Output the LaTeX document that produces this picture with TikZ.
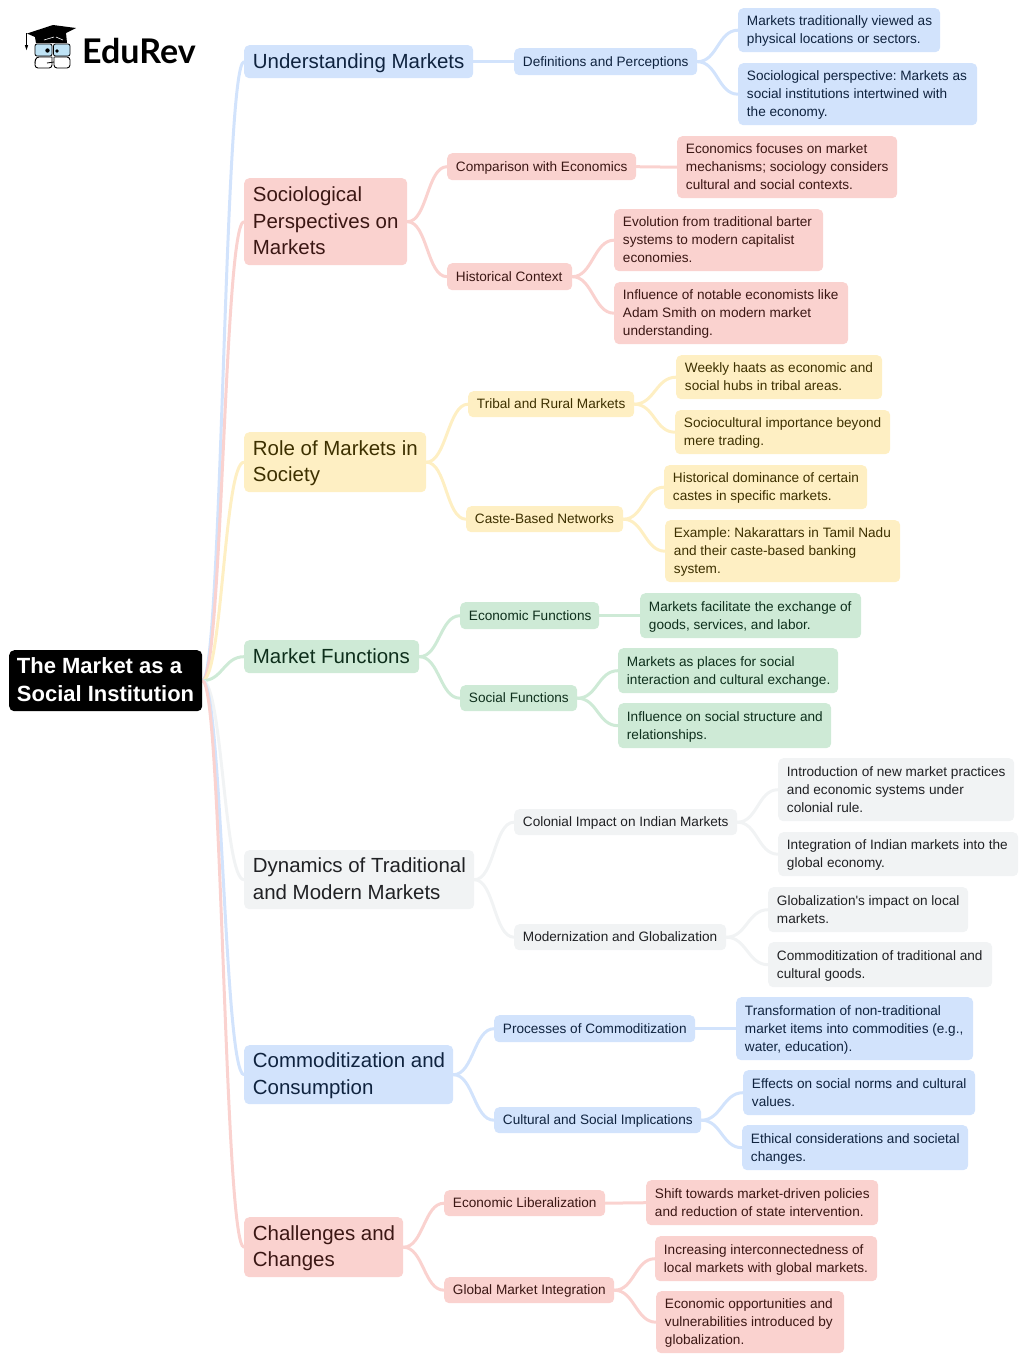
\documentclass[tikz,border=0pt]{standalone}
\usepackage{fontspec}
\setmainfont{Liberation Sans}
\newfontfamily\logofont{Lato}
\newfontfamily\straightfont{Liberation Sans}
\usetikzlibrary{backgrounds}
\definecolor{cblue}{HTML}{D2E3FC}
\definecolor{cred}{HTML}{FAD2CF}
\definecolor{cyel}{HTML}{FEEFC3}
\definecolor{cgrn}{HTML}{CEEAD6}
\definecolor{cgry}{HTML}{F1F3F4}
\definecolor{tblue}{HTML}{0F233F}
\definecolor{tred}{HTML}{3B1714}
\definecolor{tyel}{HTML}{3D3000}
\definecolor{tgrn}{HTML}{0E2F1C}
\definecolor{tgry}{HTML}{202124}
\definecolor{lensblue}{HTML}{BFE3F5}
\AtBeginDocument{\frenchspacing}
\tikzset{
  boxbase/.style={anchor=north west,rounded corners=5pt,inner xsep=0pt,inner ysep=0pt},
  lvl1/.style={boxbase,font=\fontsize{20.45}{26.5}\selectfont},
  lvl2/.style={boxbase,font=\fontsize{13.6}{18}\selectfont},
  lvl3/.style={boxbase,font=\fontsize{13.6}{18}\selectfont},
  rootbox/.style={boxbase,fill=black,text=white,font=\fontsize{22}{28}\selectfont\bfseries},
  bl/.style={fill=cblue,text=tblue},
  rd/.style={fill=cred,text=tred},
  yl/.style={fill=cyel,text=tyel},
  gn/.style={fill=cgrn,text=tgrn},
  gy/.style={fill=cgry,text=tgry},
  link/.style={line width=3pt,line cap=round},
}
\newcommand{\bx}[7]{%
  \pgfmathsetmacro{\bw}{#5-#3}\pgfmathsetmacro{\bh}{#6-#4}\pgfmathsetmacro{\tw}{#5-#3-17.5}%
  \node[#2,minimum width=\bw pt,minimum height=\bh pt] (#1) at (#3,#4) {\raisebox{-1pt}[\height][\depth]{\makebox[\tw pt][l]{\begin{tabular}{@{}l@{}}#7\end{tabular}}}};}
\newcommand{\cn}[3]{\draw[link,#3] (#1.east) .. controls +(20,0) and +(-20,0) .. (#2.west);}
\begin{document}
\begin{tikzpicture}[x=1pt,y=-1pt]
\useasboundingbox (0,0) rectangle (1024,1361);
% root
\bx{root}{rootbox}{9}{650}{202}{711}{\hspace{-1pt}The Market as a\\\hspace{-1pt}Social Institution}
% level 1
\bx{um}{lvl1,bl}{244}{45}{473}{78}{Understanding Markets}
\bx{sp}{lvl1,rd}{244}{178}{407}{265}{Sociological\\Perspectives on\\Markets}
\bx{rs}{lvl1,yl}{244}{432}{426}{492}{Role of Markets in\\Society}
\bx{mf}{lvl1,gn}{244}{640}{419}{673}{Market Functions}
\bx{dt}{lvl1,gy}{244}{850}{474}{909}{Dynamics of Traditional\\and Modern Markets}
\bx{cc}{lvl1,bl}{244}{1045}{453}{1104}{Commoditization and\\Consumption}
\bx{ch}{lvl1,rd}{244}{1217}{403}{1277}{Challenges and\\Changes}
% level 2
\bx{dp}{lvl2,bl}{514}{48}{697}{75}{Definitions and Perceptions}
\bx{ce}{lvl2,rd}{447}{153}{636}{180}{Comparison with Economics}
\bx{hc}{lvl2,rd}{447}{263}{572}{290}{Historical Context}
\bx{tr}{lvl2,yl}{468}{391}{634}{417}{Tribal and Rural Markets}
\bx{cb}{lvl2,yl}{466}{506}{623}{532}{Caste-Based Networks}
\bx{ef}{lvl2,gn}{460}{602}{599}{629}{Economic Functions}
\bx{sf}{lvl2,gn}{460}{685}{577}{711}{Social Functions}
\bx{ci}{lvl2,gy}{514}{809}{737}{835}{Colonial Impact on Indian Markets}
\bx{mg}{lvl2,gy}{514}{924}{726}{950}{Modernization and Globalization}
\bx{pc}{lvl2,bl}{494}{1015}{695}{1042}{Processes of Commoditization}
\bx{cs}{lvl2,bl}{494}{1107}{701}{1133}{Cultural and Social Implications}
\bx{el}{lvl2,rd}{444}{1190}{605}{1216}{Economic Liberalization}
\bx{gm}{lvl2,rd}{444}{1277}{614}{1303}{Global Market Integration}
% level 3
\bx{a1}{lvl3,bl}{738}{8}{940}{52}{Markets traditionally viewed as\\physical locations or sectors.}
\bx{a2}{lvl3,bl}{738}{63}{977}{125}{Sociological perspective: Markets as\\social institutions intertwined with\\the economy.}
\bx{b1}{lvl3,rd}{677}{136}{897}{198}{Economics focuses on market\\mechanisms; sociology considers\\cultural and social contexts.}
\bx{b2}{lvl3,rd}{614}{209}{823}{271}{Evolution from traditional barter\\systems to modern capitalist\\economies.}
\bx{b3}{lvl3,rd}{614}{282}{848}{344}{Influence of notable economists like\\Adam Smith on modern market\\understanding.}
\bx{c1}{lvl3,yl}{676}{355}{882}{399}{Weekly haats as economic and\\social hubs in tribal areas.}
\bx{c2}{lvl3,yl}{675}{410}{890}{454}{Sociocultural importance beyond\\mere trading.}
\bx{c3}{lvl3,yl}{664}{465}{867}{509}{Historical dominance of certain\\castes in specific markets.}
\bx{c4}{lvl3,yl}{665}{520}{900}{582}{Example: Nakarattars in Tamil Nadu\\and their caste-based banking\\system.}
\bx{d1}{lvl3,gn}{640}{593}{861}{638}{Markets facilitate the exchange of\\goods, services, and labor.}
\bx{d2}{lvl3,gn}{618}{648}{838}{693}{Markets as places for social\\interaction and cultural exchange.}
\bx{d3}{lvl3,gn}{618}{703}{831}{748}{Influence on social structure and\\relationships.}
\bx{e1}{lvl3,gy}{778}{758}{1014}{821}{Introduction of new market practices\\and economic systems under\\colonial rule.}
\bx{e2}{lvl3,gy}{778}{832}{1018}{876}{Integration of Indian markets into the\\global economy.}
\bx{e3}{lvl3,gy}{768}{887}{968}{932}{Globalization{\straightfont'}s impact on local\\markets.}
\bx{e4}{lvl3,gy}{768}{942}{992}{987}{Commoditization of traditional and\\cultural goods.}
\bx{f1}{lvl3,bl}{736}{997}{973}{1060}{Transformation of non-traditional\\market items into commodities (e.g.,\\water, education).}
\bx{f2}{lvl3,bl}{743}{1070}{975}{1115}{Effects on social norms and cultural\\values.}
\bx{f3}{lvl3,bl}{742}{1125}{968}{1170}{Ethical considerations and societal\\changes.}
\bx{g1}{lvl3,rd}{646}{1180}{878}{1225}{Shift towards market-driven policies\\and reduction of state intervention.}
\bx{g2}{lvl3,rd}{655}{1236}{877}{1281}{Increasing interconnectedness of\\local markets with global markets.}
\bx{g3}{lvl3,rd}{656}{1291}{844}{1353}{Economic opportunities and\\vulnerabilities introduced by\\globalization.}
% connectors
\begin{scope}[on background layer]
\cn{root}{um}{cblue}\cn{root}{sp}{cred}\cn{root}{rs}{cyel}\cn{root}{mf}{cgrn}
\cn{root}{dt}{cgry}\cn{root}{cc}{cblue}\cn{root}{ch}{cred}
\cn{um}{dp}{cblue}\cn{dp}{a1}{cblue}\cn{dp}{a2}{cblue}
\cn{sp}{ce}{cred}\cn{sp}{hc}{cred}\cn{ce}{b1}{cred}\cn{hc}{b2}{cred}\cn{hc}{b3}{cred}
\cn{rs}{tr}{cyel}\cn{rs}{cb}{cyel}\cn{tr}{c1}{cyel}\cn{tr}{c2}{cyel}\cn{cb}{c3}{cyel}\cn{cb}{c4}{cyel}
\cn{mf}{ef}{cgrn}\cn{mf}{sf}{cgrn}\cn{ef}{d1}{cgrn}\cn{sf}{d2}{cgrn}\cn{sf}{d3}{cgrn}
\cn{dt}{ci}{cgry}\cn{dt}{mg}{cgry}\cn{ci}{e1}{cgry}\cn{ci}{e2}{cgry}\cn{mg}{e3}{cgry}\cn{mg}{e4}{cgry}
\cn{cc}{pc}{cblue}\cn{cc}{cs}{cblue}\cn{pc}{f1}{cblue}\cn{cs}{f2}{cblue}\cn{cs}{f3}{cblue}
\cn{ch}{el}{cred}\cn{ch}{gm}{cred}\cn{el}{g1}{cred}\cn{gm}{g2}{cred}\cn{gm}{g3}{cred}
\end{scope}
% logo
\fill[black] (27,33.5) -- (53,25) -- (76,28) -- (66,33) -- (67,43) -- (36,43) -- (35,37) -- cycle;
\draw[black,line width=1pt] (26.5,33) -- (26.5,46);
\fill[black] (24.8,45) -- (28.2,45) -- (26.5,50) -- cycle;
\draw[white,line width=.6pt] (44,40) -- (54,37) (56,37) -- (63,40);
\filldraw[fill=lensblue,draw=black,line width=.8pt,rounded corners=2pt] (35,44) rectangle (52,56);
\filldraw[fill=lensblue,draw=black,line width=.8pt,rounded corners=2pt] (53.5,44) rectangle (70,56);
\fill[black] (47.5,50.5) circle (2.2pt) (57,51) circle (1.8pt);
\draw[black,line width=.9pt,rounded corners=3pt] (52,57) -- (36,57) -- (35,62) -- (35,68) -- (52,68) -- (52,57);
\draw[black,line width=.9pt,rounded corners=3pt] (54,57) -- (70,57) -- (70,68) -- (54,68) -- (54,57);
\draw[black,line width=.8pt] (47,63) -- (54,62);
\node[anchor=base west,inner sep=0pt,font=\logofont\bfseries\fontsize{34}{34}\selectfont,text=black] (logotext) at (82,63) {EduRev};
\end{tikzpicture}
\end{document}
